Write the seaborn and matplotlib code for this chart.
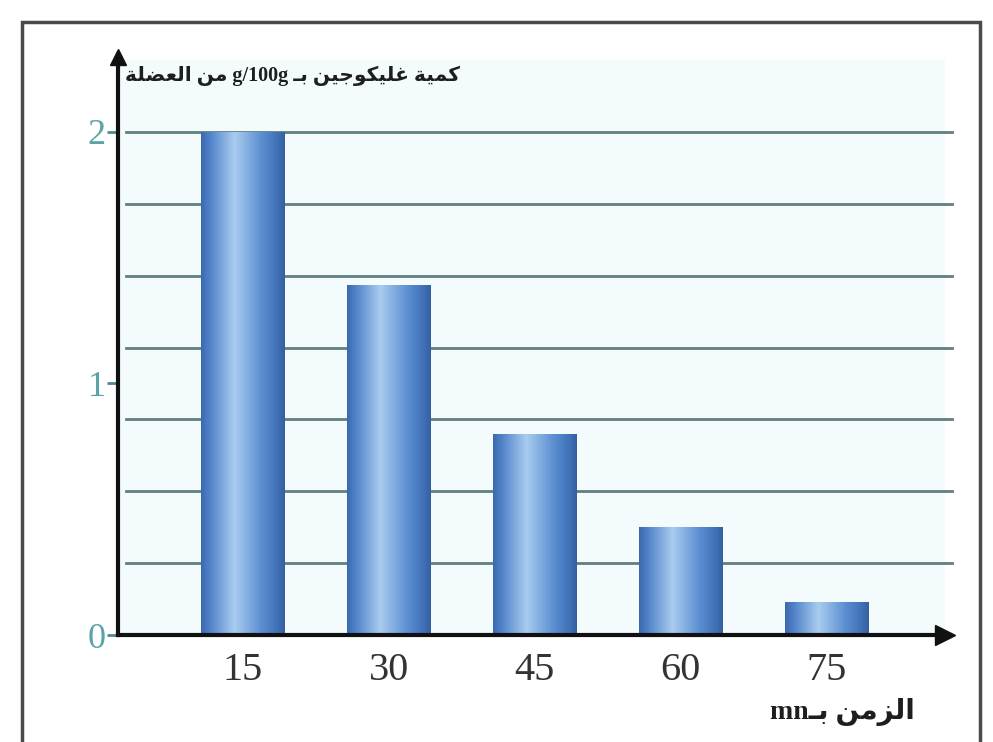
import numpy as np
import pandas as pd
import seaborn as sns
import matplotlib.pyplot as plt
from matplotlib.colors import LinearSegmentedColormap
from matplotlib.patches import Rectangle

# data
times = ['15', '30', '45', '60', '75']
glycogen = [2.0, 1.39, 0.8, 0.43, 0.13]
ytick_vals = [0, 1, 2]
ylabel_text = 'كمية غليكوجين بـ g/100g من العضلة'
xlabel_text = 'الزمن بـmn'

# arabic presentation forms: iso, final, initial, medial
FORMS = {
    'ا': ('\uFE8D', '\uFE8E', None, None),
    'ب': ('\uFE8F', '\uFE90', '\uFE91', '\uFE92'),
    'ة': ('\uFE93', '\uFE94', None, None),
    'ج': ('\uFE9D', '\uFE9E', '\uFE9F', '\uFEA0'),
    'ز': ('\uFEAF', '\uFEB0', None, None),
    'ض': ('\uFEBD', '\uFEBE', '\uFEBF', '\uFEC0'),
    'ع': ('\uFEC9', '\uFECA', '\uFECB', '\uFECC'),
    'غ': ('\uFECD', '\uFECE', '\uFECF', '\uFED0'),
    'ك': ('\uFED9', '\uFEDA', '\uFEDB', '\uFEDC'),
    'ل': ('\uFEDD', '\uFEDE', '\uFEDF', '\uFEE0'),
    'م': ('\uFEE1', '\uFEE2', '\uFEE3', '\uFEE4'),
    'ن': ('\uFEE5', '\uFEE6', '\uFEE7', '\uFEE8'),
    'و': ('\uFEED', '\uFEEE', None, None),
    'ي': ('\uFEF1', '\uFEF2', '\uFEF3', '\uFEF4'),
}
TATWEEL = 'ـ'


def joins_left(c):
    return c == TATWEEL or (c in FORMS and FORMS[c][2] is not None)


def is_ar(c):
    return c == TATWEEL or c in FORMS


def shape(word):
    out = []
    for i, c in enumerate(word):
        if c not in FORMS:
            out.append(c)
            continue
        jp = i > 0 and joins_left(word[i - 1])
        jn = FORMS[c][2] is not None and i + 1 < len(word) and is_ar(word[i + 1])
        iso, fin, ini, med = FORMS[c]
        out.append(med if jp and jn else fin if jp else ini if jn else iso)
    return ''.join(out)


def visual(text):
    # rtl line: reverse word order, inside a word reverse the runs
    words = []
    for w in text.split(' '):
        runs = []
        for c in w:
            if runs and is_ar(c) == runs[-1][1]:
                runs[-1][0] += c
            else:
                runs.append([c, is_ar(c)])
        words.append(''.join(shape(r)[::-1] if a else r for r, a in reversed(runs)))
    return ' '.join(reversed(words))


df = pd.DataFrame({'time': times, 'glycogen': glycogen})

fig = plt.figure(figsize=(9.93, 7.42), dpi=100)
ax = fig.add_axes([118 / 993, 1 - 635 / 742, (945 - 118) / 993, (635 - 60) / 742])
ax.set_facecolor('#f3fbfc')

sns.barplot(data=df, x='time', y='glycogen', ax=ax, width=0.57, color='#4a7cc2',
            edgecolor='none', zorder=3)

# cylinder like shading on every bar
cmap = LinearSegmentedColormap.from_list('cyl', [
    (0.0, '#3a68ad'), (0.12, '#5587cc'), (0.4, '#a9ccef'),
    (0.72, '#5c8fd2'), (0.92, '#3f70b6'), (1.0, '#33609e')])
grad = np.linspace(0, 1, 256).reshape(1, -1)
for bar in ax.patches:
    x0, y0 = bar.get_x(), bar.get_y()
    w, h = bar.get_width(), bar.get_height()
    im = ax.imshow(grad, cmap=cmap, aspect='auto', extent=(x0, x0 + w, y0, y0 + h),
                   zorder=4)
    im.set_clip_path(bar)
ax.set_xlim(-0.856, 4.81)
ax.set_ylim(0, 2.286)

# horizontal grid lines
for gy in np.linspace(0, 2, 8)[1:]:
    ax.axhline(gy, xmin=0.01, xmax=1.008, color='#5f7f80', lw=2.0, zorder=1, clip_on=False)

for s in ['top', 'right']:
    ax.spines[s].set_visible(False)
for s in ['left', 'bottom']:
    ax.spines[s].set_linewidth(3)
    ax.spines[s].set_color('#111111')
    ax.spines[s].set_zorder(5)
ax.plot(1, 0, marker='>', color='#111111', markersize=14, transform=ax.transAxes,
        clip_on=False, zorder=6)
ax.plot(0, 1.005, marker='^', color='#111111', markersize=11, transform=ax.transAxes,
        clip_on=False, zorder=6)

ax.set_yticks(ytick_vals)
ax.set_yticklabels([str(v) for v in ytick_vals], family='Liberation Serif',
                   fontsize=26, color='#5aa3a8')
ax.tick_params(axis='y', length=8, width=2, color='#4e8a8e', pad=1)
ax.tick_params(axis='x', length=0, pad=12)
for lab in ax.get_xticklabels():
    lab.set_family('Liberation Serif')
    lab.set_fontsize(29)
    lab.set_color('#333333')
ax.set_xlabel('')
ax.set_ylabel('')

fig.text(125 / 993, 1 - 76 / 742, visual(ylabel_text), ha='left', va='center',
         family=['Liberation Serif', 'DejaVu Sans'], fontsize=14.5, fontweight='bold',
         color='#1e1e1e')
fig.text(915 / 993, 1 - 712 / 742, visual(xlabel_text), ha='right', va='center',
         family=['Liberation Serif', 'DejaVu Sans'], fontsize=20, fontweight='bold',
         color='#1e1e1e')

# outer frame
fig.patches.append(Rectangle((22 / 993, -0.05), (980 - 22) / 993, 1.05 - 22 / 742,
                             transform=fig.transFigure, fill=False, edgecolor='#4a4a4a',
                             lw=2.5, zorder=0))

fig.savefig('out.png', dpi=100)
